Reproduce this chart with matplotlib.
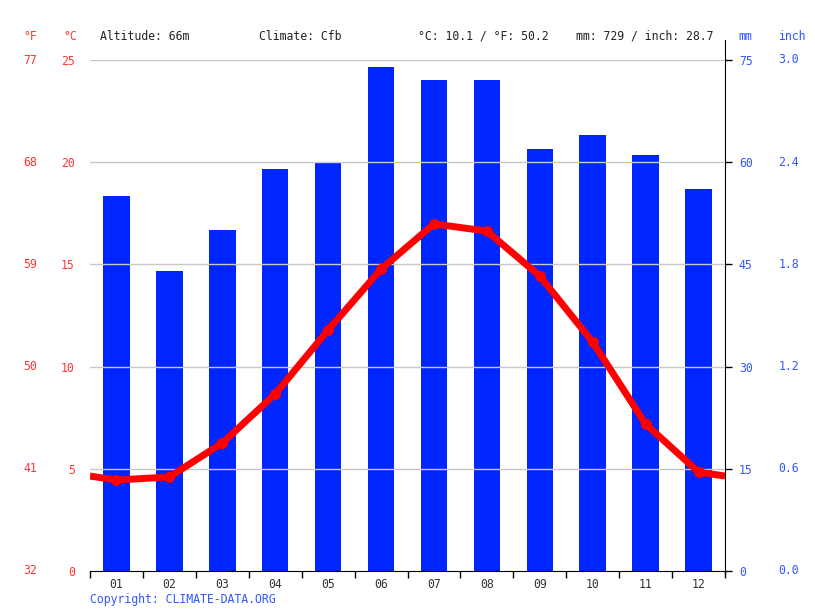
import numpy as np
import matplotlib.pyplot as plt

months = ['01', '02', '03', '04', '05', '06', '07', '08', '09', '10', '11', '12']
precip_mm = [55, 44, 50, 59, 60, 74, 72, 72, 62, 64, 61, 56]
temp_c = [4.45, 4.6, 6.26, 8.66, 11.79, 14.77, 16.98, 16.63, 14.43, 11.2, 7.19, 4.84]

c_ticks = [0, 5, 10, 15, 20, 25]
f_labels = ['32', '41', '50', '59', '68', '77']
mm_ticks = [0, 15, 30, 45, 60, 75]
inch_labels = ['0.0', '0.6', '1.2', '1.8', '2.4', '3.0']

mono = 'DejaVu Sans Mono'
fs = 8.3
red = '#ff0000'
lred = '#ff3333'
blue = '#0026ff'
lblue = '#3355ff'

fig = plt.figure(figsize=(8.15, 6.11), dpi=100)
ax = fig.add_axes([90/815, 40/611, 635/815, 511/611])
ax2 = ax.twinx()

x = np.arange(len(months))

# precipitation bars on the mm axis
ax2.bar(x, precip_mm, width=0.5, color=blue, zorder=2)
ax2.set_ylim(0, 75)
ax2.set_yticks(mm_ticks)
ax2.set_yticklabels([str(t) for t in mm_ticks], color=lblue, fontfamily=mono, fontsize=fs)
ax2.tick_params(axis='y', length=5, pad=5, width=1)

# temperature line, wrapped to the edges
edge = (temp_c[0] + temp_c[-1]) / 2
tx = np.concatenate([[-0.5], x, [11.5]])
ty = np.concatenate([[edge], temp_c, [edge]])
ax.set_zorder(ax2.get_zorder() + 1)
ax.patch.set_visible(False)
ax.plot(tx, ty, color=red, lw=5, solid_capstyle='butt', zorder=3)
ax.plot(x, temp_c, 'o', color=red, ms=7, zorder=4)

ax.set_xlim(-0.5, 11.5)
ax.set_ylim(0, 25)
ax.set_yticks(c_ticks)
ax.set_yticklabels([str(t) for t in c_ticks], color=lred, fontfamily=mono, fontsize=fs)
ax.tick_params(axis='y', length=0, pad=11)
for t in c_ticks[1:]:
    ax.axhline(t, color='#c8c8c8', lw=1, zorder=1)

ax.set_xticks(x)
ax.set_xticklabels(months, fontfamily=mono, fontsize=fs, color='#333333')
ax.set_xticks(np.arange(-0.5, 12, 1), minor=True)
ax.tick_params(axis='x', which='major', length=0, pad=5)
ax.tick_params(axis='x', which='minor', length=5, width=1)

for a in (ax, ax2):
    a.spines['top'].set_visible(False)
    a.spines['left'].set_visible(False)
ax.spines['right'].set_visible(False)
ax2.spines['bottom'].set_visible(False)
ax2.spines['right'].set_bounds(-0.6, 78)

# fahrenheit labels
for t, lab in zip(c_ticks, f_labels):
    ax.text(-0.094, t, lab, transform=ax.get_yaxis_transform(), color=lred,
            fontfamily=mono, fontsize=fs, ha='center', va='center')
# inch labels
for t, lab in zip(mm_ticks, inch_labels):
    ax2.text(1.1, t, lab, transform=ax2.get_yaxis_transform(), color=lblue,
             fontfamily=mono, fontsize=fs, ha='center', va='center')

# header
hy = 1 - 36/611
fig.text(30/815, hy, '°F', color=lred, fontfamily=mono, fontsize=fs, ha='center', va='center')
fig.text(70/815, hy, '°C', color=lred, fontfamily=mono, fontsize=fs, ha='center', va='center')
fig.text(100/815, hy, 'Altitude: 66m', color='#222222', fontfamily=mono, fontsize=fs, va='center')
fig.text(259/815, hy, 'Climate: Cfb', color='#222222', fontfamily=mono, fontsize=fs, va='center')
fig.text(418/815, hy, '°C: 10.1 / °F: 50.2', color='#222222', fontfamily=mono, fontsize=fs, va='center')
fig.text(576/815, hy, 'mm: 729 / inch: 28.7', color='#222222', fontfamily=mono, fontsize=fs, va='center')
fig.text(745/815, hy, 'mm', color=lblue, fontfamily=mono, fontsize=fs, ha='center', va='center')
fig.text(792/815, hy, 'inch', color=lblue, fontfamily=mono, fontsize=fs, ha='center', va='center')

fig.text(90/815, 1 - 599/611, 'Copyright: CLIMATE-DATA.ORG', color=lblue,
         fontfamily=mono, fontsize=fs, va='center')

fig.savefig('out.png', dpi=100)
